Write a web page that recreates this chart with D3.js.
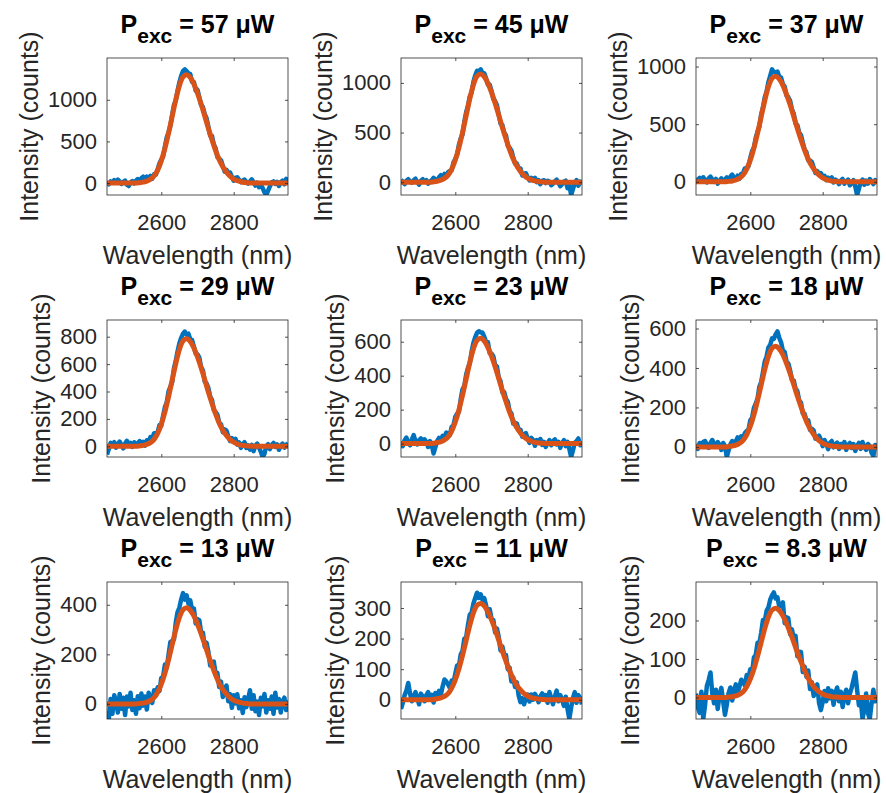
<!DOCTYPE html>
<html>
<head>
<meta charset="utf-8">
<script src="https://cdn.jsdelivr.net/npm/d3@7"></script>
<style>
  body { margin: 0; background: #fff; }
  text { font-family: "Liberation Sans", Arial, Helvetica, sans-serif; }
</style>
</head>
<body>
<script>
// excitation power of each panel (µW), read left-to-right, top-to-bottom
var powers = ["57", "45", "37", "29", "23", "18", "13", "11", "8.3"];

// axis limits and ticks
var xDomain = [2450, 2950];
var xTicks = [2600, 2800];
var yMin = [-143, -129, -114, -78, -79, -51, -61, -63, -56];
var yMax = [1502, 1251, 1074, 922, 728, 643, 492, 385, 300];
var yTicks = [
    [0, 500, 1000], [0, 500, 1000], [0, 500, 1000],
    [0, 200, 400, 600, 800], [0, 200, 400, 600], [0, 200, 400, 600],
    [0, 200, 400], [0, 100, 200, 300], [0, 100, 200]
];

// measured spectra, sampled every 5 nm from 2450 to 2950 nm
var wavelengths = d3.range(2450, 2951, 5);

var counts57 = [10, -15, 20, 5, 35, 15, 40, 20, -10, 15, 30, -20, -35, 10, 25, -5, 30,
    49, 25, 58, 77, 47, 78, 59, 86, 52, 105, 102, 166, 238, 282, 318, 441, 547, 608, 687, 820,
    939, 991, 1112, 1210, 1289, 1344, 1366, 1345, 1317, 1308, 1215, 1215, 1108, 1119, 1029, 939, 913, 826, 778, 677,
    570, 565, 465, 420, 312, 295, 274, 205, 138, 160, 119, 127, 75, 29, 64, 69, 37, 11, 32, 43, 15, -6,
    20, 45, 10, -30, 5, -50, -20, -60, -110, -143, -90, -40, 10, 20, -10, 15, -35, 10, 30, -15, 50, 25];
var counts45 = [25, 5, -20, 15, 30, 10, -5, 20, 35, 0, -25, 15, 30, 5, 20, -15, 10,
    18, 44, 27, 15, 49, 70, 48, 83, 62, 101, 113, 121, 199, 233, 278, 379, 440, 481, 609, 705,
    768, 864, 901, 1011, 1075, 1123, 1115, 1137, 1099, 1098, 1046, 982, 984, 920, 840, 816, 776, 681, 590, 575,
    501, 471, 367, 347, 318, 249, 186, 189, 141, 139, 67, 84, 90, 51, 18, 44, 24, 43, 0, 22, -21, 13,
    20, -10, 15, 5, -30, -15, 10, 25, -5, -40, -20, 5, 15, -60, -25, -129, -70, -10, 20, -35, 5, -15];
var counts37 = [-10, 20, 35, 10, 40, 15, -5, 30, 45, 20, 0, 25, -15, 10, 30, 5, 20,
    38, 19, 45, 63, 32, 26, 54, 27, 69, 74, 117, 120, 136, 208, 268, 298, 382, 436, 479, 583,
    646, 735, 784, 864, 920, 976, 955, 945, 956, 912, 904, 847, 826, 749, 734, 703, 628, 592, 507, 492,
    427, 406, 340, 280, 258, 187, 185, 172, 124, 77, 93, 63, 76, 50, 52, 15, 36, 21, 38, -5, 19, 8,
    -20, 10, 25, -15, 5, 20, -30, -10, 15, -40, -114, -60, 0, 20, -25, 10, -15, 25, 5, -20, 15, 0];
var counts29 = [-60, -20, 25, 5, 30, -10, 15, 35, 10, -15, 20, 40, 5, 25, -5, 30, 15,
    22, 38, 15, 32, 5, 44, 35, 67, 58, 96, 96, 104, 156, 151, 224, 286, 321, 401, 434, 468,
    571, 624, 694, 752, 792, 822, 838, 815, 822, 780, 776, 728, 677, 672, 647, 578, 555, 472, 460, 426,
    363, 339, 265, 251, 230, 174, 161, 103, 123, 114, 73, 39, 59, 35, 54, 12, 28, -11, 17, 30, -12, 7,
    -25, 10, -35, 5, 20, -10, -40, -78, -55, 0, 15, -20, 10, 25, -5, 15, -25, 5, 20, -10, 10, 25];
var counts23 = [10, -15, 20, 35, 5, -10, 25, 50, 15, -5, 20, 30, 0, 25, 10, -20, 15,
    -8, -58, -21, 16, 33, 16, 46, 37, 65, 60, 51, 99, 109, 157, 176, 188, 262, 320, 340, 406,
    446, 472, 541, 593, 626, 653, 662, 655, 654, 630, 599, 597, 533, 530, 514, 463, 454, 389, 367, 303,
    304, 263, 247, 191, 178, 118, 122, 118, 83, 82, 40, 54, 61, 29, 4, 34, 21, -13, 21, 9, 27, -8,
    10, -20, 5, 20, -10, 15, 25, -5, 10, -25, 5, 20, -15, 10, -30, -79, -40, 5, 15, 30, -10, 10];
var counts18 = [15, -10, 20, 5, 25, 30, 10, -5, 20, 35, 15, 0, 25, 10, -15, 20, 5,
    -51, -18, 13, 30, 12, 29, 48, 33, 54, 43, 71, 81, 87, 135, 148, 198, 219, 245, 305, 329,
    379, 433, 458, 504, 517, 550, 547, 570, 585, 552, 530, 487, 481, 433, 423, 387, 339, 336, 296, 283,
    235, 224, 169, 168, 135, 135, 87, 92, 84, 41, 46, 57, 36, 4, 35, 16, -11, 21, 30, -2, 12, 22,
    -10, 15, 5, 25, -15, 10, 20, -5, 15, -20, 5, 20, -10, 25, 0, -15, 15, 5, -30, -45, 10, -5];
var counts13 = [-30, -61, 20, -40, 35, 10, -35, 40, -20, 25, -45, 30, -10, 45, -25, 15, -40,
    31, -18, 42, -7, 30, -23, 45, 24, 4, 55, 40, 67, 52, 105, 111, 159, 146, 198, 250, 254,
    260, 329, 371, 389, 422, 447, 421, 438, 404, 418, 379, 385, 325, 342, 338, 288, 287, 231, 247, 211,
    155, 165, 171, 121, 124, 68, 90, 28, 59, 74, 11, 39, -16, 35, 2, 39, -18, 15, -37, 27, -13, 21,
    55, -20, 35, -30, 10, -45, 25, -10, 40, -35, 15, -20, 30, -40, 45, -15, 20, -35, 10, 25, -25, 15];
var counts11 = [-30, -10, 15, 30, 55, 20, -5, 10, 25, 5, -15, 20, 10, -5, 15, 25, 0,
    16, -9, 22, 8, 29, 16, 43, 66, 60, 50, 38, 63, 55, 85, 112, 111, 148, 160, 200, 204,
    244, 278, 285, 314, 333, 350, 333, 345, 327, 332, 309, 273, 296, 266, 261, 220, 233, 205, 161, 174,
    147, 146, 100, 105, 60, 73, 42, 57, 14, -8, 5, -15, 6, 17, -6, 17, 0, 19, 8, -8, 11, 21,
    5, 15, -10, 25, 5, -15, 10, 30, -5, 15, 0, -20, 10, -30, -63, -25, 5, 25, -10, 15, 5, -15];
var counts8p3 = [10, -25, -40, 15, -56, -20, 30, 45, 65, 10, -15, 20, -30, 5, 25, -10, -45,
    -19, 11, 26, -8, 18, 34, 11, 28, 46, 40, 31, 58, 52, 73, 65, 104, 110, 142, 140, 168,
    201, 199, 225, 234, 254, 265, 273, 257, 260, 236, 240, 247, 193, 208, 206, 164, 177, 154, 160, 107,
    119, 118, 66, 80, 54, 70, 22, 40, 4, 13, 34, -15, -33, -11, 17, -10, 24, -2, 17, -19, 11, 26,
    -10, 15, -25, 5, 20, -15, 10, 25, 45, 65, 20, -20, -5, -56, -30, 10, -40, -56, -15, 20, -10, 5];

// fitted curves
var fitWavelengths = [2450, 2530, 2540, 2550, 2560, 2570, 2580, 2590, 2600, 2610, 2620, 2630, 2640, 2650,
    2660, 2670, 2680, 2690, 2700, 2710, 2720, 2730, 2740, 2750, 2760, 2770, 2780, 2790, 2800,
    2810, 2820, 2830, 2840, 2850, 2950];
var fit57 = [0, 0, 5, 12, 23, 46, 85, 156, 267, 416, 598, 800, 1001, 1170, 1274, 1300, 1268, 1190, 1079, 949, 806, 657, 520, 390, 280, 195, 130, 82, 49, 29, 16, 8, 4, 0, 0];
var fit45 = [0, 0, 4, 10, 20, 38, 71, 131, 223, 349, 501, 670, 839, 981, 1068, 1090, 1063, 997, 905, 796, 676, 550, 436, 327, 234, 164, 109, 69, 41, 24, 13, 7, 3, 0, 0];
var fit37 = [0, 0, 4, 8, 16, 32, 59, 110, 188, 293, 421, 563, 705, 824, 897, 915, 892, 837, 759, 668, 567, 462, 366, 275, 197, 137, 92, 58, 35, 20, 11, 5, 3, 0, 0];
var fit29 = [0, 0, 3, 7, 14, 27, 51, 94, 161, 251, 361, 483, 604, 707, 769, 785, 765, 718, 652, 573, 487, 396, 314, 236, 169, 118, 79, 49, 30, 17, 9, 5, 2, 0, 0];
var fit23 = [0, 0, 2, 6, 11, 22, 40, 74, 127, 198, 285, 381, 477, 558, 608, 620, 605, 567, 515, 453, 384, 313, 248, 186, 133, 93, 62, 39, 24, 14, 7, 4, 2, 0, 0];
var fit18 = [0, 0, 2, 5, 9, 18, 33, 61, 105, 163, 235, 314, 393, 459, 500, 510, 497, 467, 423, 372, 316, 258, 204, 153, 110, 77, 51, 32, 19, 11, 6, 3, 2, 0, 0];
var fit13 = [0, 0, 2, 3, 7, 14, 25, 47, 80, 124, 178, 239, 299, 349, 380, 388, 378, 355, 322, 283, 241, 196, 155, 116, 83, 58, 39, 24, 15, 9, 5, 2, 1, 0, 0];
var fit11 = [0, 0, 1, 3, 6, 11, 20, 38, 65, 101, 145, 194, 243, 284, 309, 315, 307, 288, 261, 230, 195, 159, 126, 95, 68, 47, 32, 20, 12, 7, 4, 2, 1, 0, 0];
var fit8p3 = [0, 0, 1, 2, 4, 8, 15, 28, 48, 74, 107, 143, 179, 209, 227, 232, 226, 212, 193, 169, 144, 117, 93, 70, 50, 35, 23, 15, 9, 5, 3, 1, 1, 0, 0];

var measured = [counts57, counts45, counts37, counts29, counts23, counts18, counts13, counts11, counts8p3];
var fits = [fit57, fit45, fit37, fit29, fit23, fit18, fit13, fit11, fit8p3];

// layout of the 3x3 grid
var w = 886, h = 793;
var colLeft = [107, 401, 696];
var rowTop = [58, 320, 582];
var boxW = 181, boxH = 137;
var axisColor = "#262626";

var svg = d3.select("body").append("svg")
    .attr("width", w)
    .attr("height", h)
    .style("background", "#fff");

powers.forEach(function (pw, i) {
    var x0 = colLeft[i % 3], y0 = rowTop[Math.floor(i / 3)];

    var x = d3.scaleLinear().domain(xDomain).range([0, boxW]);
    var y = d3.scaleLinear().domain([yMin[i], yMax[i]]).range([boxH, 0]);

    var g = svg.append("g").attr("transform", "translate(" + x0 + "," + y0 + ")");

    g.append("clipPath").attr("id", "clip" + i)
        .append("rect").attr("width", boxW).attr("height", boxH);

    // measured spectrum
    var dataLine = d3.line()
        .x(function (d, j) { return x(wavelengths[j]); })
        .y(function (d) { return y(d); });
    g.append("path")
        .datum(measured[i])
        .attr("clip-path", "url(#clip" + i + ")")
        .attr("d", dataLine)
        .attr("fill", "none")
        .attr("stroke", "#0072BD")
        .attr("stroke-width", 4.5)
        .attr("stroke-linejoin", "round");

    // fit
    var fitLine = d3.line()
        .x(function (d, j) { return x(fitWavelengths[j]); })
        .y(function (d) { return y(d); })
        .curve(d3.curveMonotoneX);
    g.append("path")
        .datum(fits[i])
        .attr("clip-path", "url(#clip" + i + ")")
        .attr("d", fitLine)
        .attr("fill", "none")
        .attr("stroke", "#D95319")
        .attr("stroke-width", 5)
        .attr("stroke-linejoin", "round")
        .attr("stroke-linecap", "round");

    // axes (ticks point inward, like matlab)
    var fmt = d3.format("d");
    var axB = g.append("g").attr("transform", "translate(0," + boxH + ")")
        .call(d3.axisBottom(x).tickValues(xTicks).tickFormat(fmt).tickSizeInner(-3).tickSizeOuter(0).tickPadding(19));
    var axT = g.append("g")
        .call(d3.axisTop(x).tickValues(xTicks).tickSizeInner(-3).tickSizeOuter(0).tickFormat(""));
    var axL = g.append("g")
        .call(d3.axisLeft(y).tickValues(yTicks[i]).tickFormat(fmt).tickSizeInner(-3).tickSizeOuter(0).tickPadding(10));
    var axR = g.append("g").attr("transform", "translate(" + boxW + ",0)")
        .call(d3.axisRight(y).tickValues(yTicks[i]).tickSizeInner(-3).tickSizeOuter(0).tickFormat(""));

    [axB, axT, axL, axR].forEach(function (ax) {
        ax.select(".domain").remove();
        ax.selectAll("line").attr("stroke", axisColor).attr("stroke-width", 0.8);
        ax.selectAll("text")
            .attr("fill", axisColor)
            .attr("font-size", 22)
            .attr("font-family", '"Liberation Sans", Arial, sans-serif');
    });

    g.append("rect")
        .attr("width", boxW).attr("height", boxH)
        .attr("fill", "none")
        .attr("stroke", axisColor)
        .attr("stroke-width", 0.8);

    // labels
    g.append("text")
        .attr("x", boxW / 2)
        .attr("y", boxH + 69)
        .attr("text-anchor", "middle")
        .attr("font-size", 25)
        .attr("fill", axisColor)
        .text("Wavelength (nm)");

    var bb = axL.node().getBBox();
    g.append("text")
        .attr("transform", "translate(" + (bb.x - 10) + "," + (boxH / 2) + ") rotate(-90)")
        .attr("text-anchor", "middle")
        .attr("font-size", 25)
        .attr("fill", axisColor)
        .text("Intensity (counts)");

    var title = g.append("text")
        .attr("x", boxW / 2)
        .attr("y", -25)
        .attr("text-anchor", "middle")
        .attr("font-size", 25)
        .attr("font-weight", "bold")
        .attr("fill", "#000");
    title.append("tspan").text("P");
    title.append("tspan").attr("font-size", 21).attr("dy", 10).text("exc");
    title.append("tspan").attr("dy", -10).text(" = " + pw + " μW");
});
</script>
</body>
</html>
